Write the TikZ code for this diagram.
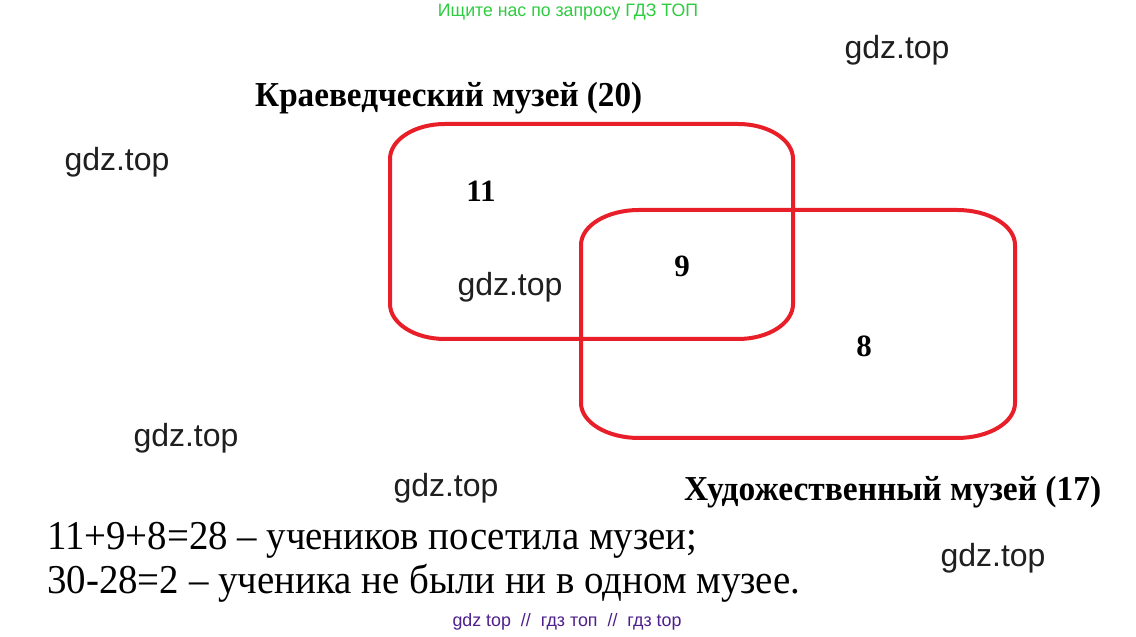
\documentclass[tikz,border=0pt]{standalone}
\usepackage{fontspec}
\usepackage{graphicx}
\setmainfont{Liberation Serif}
\newfontfamily\wmfont{Liberation Sans}
\definecolor{vennred}{RGB}{232,30,40}
\definecolor{adgreen}{RGB}{46,204,64}
\definecolor{adpurple}{RGB}{78,32,140}
\newcommand{\fitw}[2]{\resizebox{#1}{\height}{#2}}
\begin{document}
\begin{tikzpicture}[x=1pt,y=1pt,
  wm/.style={inner sep=0pt, font=\wmfont\fontsize{32}{32}\selectfont, text=black!88},
  num/.style={inner sep=0pt, font=\bfseries\fontsize{31}{31}\selectfont},
  head/.style={inner sep=0pt, anchor=base west, font=\bfseries\fontsize{35}{35}\selectfont},
  sol/.style={inner sep=0pt, anchor=base west, font=\fontsize{41}{41}\selectfont},
  vbox/.style={draw=vennred, line width=4pt}]
\useasboundingbox (0,0) rectangle (1136,637);
\fill[white] (0,0) rectangle (1136,637);
% rectangles
\draw[vbox] (390,333) -- (390,478) arc[start angle=180,end angle=90,x radius=55pt,y radius=35pt]
  -- (738,513) arc[start angle=90,end angle=0,x radius=55pt,y radius=35pt]
  -- (793,333) arc[start angle=0,end angle=-90,x radius=55pt,y radius=35pt]
  -- (445,298) arc[start angle=-90,end angle=-180,x radius=55pt,y radius=35pt] -- cycle;
\draw[vbox] (581,234) -- (581,392) arc[start angle=180,end angle=90,x radius=58pt,y radius=35pt]
  -- (957,427) arc[start angle=90,end angle=0,x radius=58pt,y radius=35pt]
  -- (1015,234) arc[start angle=0,end angle=-90,x radius=58pt,y radius=35pt]
  -- (639,199) arc[start angle=-90,end angle=-180,x radius=58pt,y radius=35pt] -- cycle;
% texts
\node[inner sep=0pt, text=adgreen, font=\wmfont\fontsize{18}{18}\selectfont] (ad) at (568,625) {\fitw{260pt}{Ищите нас по запросу ГДЗ ТОП}};
\node[inner sep=0pt, text=adpurple, font=\wmfont\fontsize{18}{18}\selectfont] (ad2) at (567,15) {\fitw{229pt}{gdz top \ // \ гдз топ \ // \ гдз top}};
\node[head] (h1) at (255,530) {\fitw{387pt}{Краеведческий музей (20)}};
\node[head] (h2) at (684,136) {\fitw{417pt}{Художественный музей (17)}};
\node[num] (n11) at (481,446) {11};
\node[num] (n9) at (682,371) {9};
\node[num] (n8) at (864,291) {8};
\node[sol] (s1) at (47,87) {\fitw{650pt}{11+9+8=28 – учеников посетила музеи;}};
\node[sol] (s2) at (47,43) {\fitw{753pt}{30-28=2 – ученика не были ни в одном музее.}};
\node[wm] (w1) at (897,587) {gdz.top};
\node[wm] (w2) at (117,475) {gdz.top};
\node[wm] (w3) at (510,350) {gdz.top};
\node[wm] (w4) at (186,199) {gdz.top};
\node[wm] (w5) at (446,149) {gdz.top};
\node[wm] (w6) at (993,79) {gdz.top};
\end{tikzpicture}
\end{document}
